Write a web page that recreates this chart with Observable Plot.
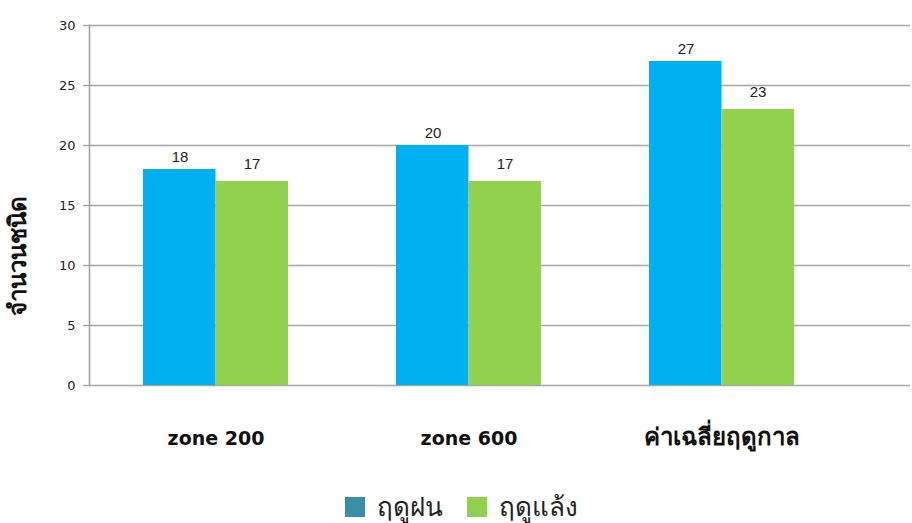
<!DOCTYPE html>
<html><head><meta charset="utf-8">
<script src="https://cdn.jsdelivr.net/npm/d3@7"></script>
<script src="https://cdn.jsdelivr.net/npm/@observablehq/plot@0.6"></script>
<style>
body{margin:0;background:#fff;font-family:Tahoma,"DejaVu Sans",sans-serif;}
#legend{display:flex;justify-content:center;align-items:center;height:43px;padding-top:5px;font-size:26px;color:#222;margin-left:10px}
.sw{width:20px;height:20px;display:inline-block;margin-right:12px}
.item{display:flex;align-items:center;margin:0 12px}
</style></head><body>
<div id="chart"></div>
<div id="legend"></div>
<script>
const groups = ["zone 200", "zone 600", "ค่าเฉลี่ยฤดูกาล"];
const rainy = [18, 20, 27];
const dry = [17, 17, 23];
const seriesNames = ["ฤดูฝน", "ฤดูแล้ง"];
const barColors = ["#00b0f0", "#92d050"];
const legendColors = ["#3a8fa5", "#92d050"];
const yTicks = [0, 5, 10, 15, 20, 25, 30];
const yTitle = "จำนวนชนิด";

const rainyData = groups.map((g, i) => ({group: g, value: rainy[i]}));
const dryData = groups.map((g, i) => ({group: g, value: dry[i]}));
const isLatin = s => /[a-z]/.test(s);

const plot = Plot.plot({
  width: 912,
  height: 480,
  marginLeft: 89,
  marginRight: 2,
  marginTop: 25,
  marginBottom: 95,
  x: {domain: groups, range: [89, 848], paddingInner: 0.427, paddingOuter: 0.2135, label: null, axis: null},
  y: {domain: [0, 30], ticks: yTicks, label: null},
  style: {fontFamily: "Arial, 'Liberation Sans', sans-serif"},
  marks: [
    Plot.ruleY(yTicks, {stroke: "#a6a6a6", strokeWidth: 1.3}),
    Plot.barY(rainyData, {x: "group", y: "value", fill: barColors[0], insetRight: 72.5}),
    Plot.barY(dryData, {x: "group", y: "value", fill: barColors[1], insetLeft: 72.5}),
    Plot.text(rainyData, {x: "group", y: "value", text: d => String(d.value), dx: -36, dy: -12, fontSize: 15, fill: "#222"}),
    Plot.text(dryData, {x: "group", y: "value", text: d => String(d.value), dx: 36, dy: -17, fontSize: 15, fill: "#222"}),
    Plot.axisY({ticks: yTicks, tickSize: 6, tickPadding: 8, fontSize: 13, fill: "#222", stroke: "#a0a0a0", strokeWidth: 1.3, label: null, fontFamily: "Tahoma, 'DejaVu Sans', sans-serif"}),
    Plot.frame({anchor: "left", stroke: "#a0a0a0", strokeWidth: 1.5}),
    Plot.text(groups, {x: d => d, frameAnchor: "bottom", dy: 59, fontSize: d => isLatin(d) ? 19 : 24, fontWeight: "bold", fill: "#111", fontFamily: "Tahoma, 'DejaVu Sans', sans-serif"}),
    Plot.text([yTitle], {frameAnchor: "left", textAnchor: "middle", rotate: -90, dx: -71, dy: 50, fontSize: 24, fontWeight: "bold", fill: "#111", fontFamily: "Tahoma, 'DejaVu Sans', sans-serif"})
  ]
});
document.getElementById("chart").appendChild(plot);

const lg = document.getElementById("legend");
seriesNames.forEach((n, i) => {
  const it = document.createElement("div");
  it.className = "item";
  const sw = document.createElement("span");
  sw.className = "sw";
  sw.style.background = legendColors[i];
  const t = document.createElement("span");
  t.textContent = n;
  it.appendChild(sw); it.appendChild(t);
  lg.appendChild(it);
});
</script>
</body></html>
